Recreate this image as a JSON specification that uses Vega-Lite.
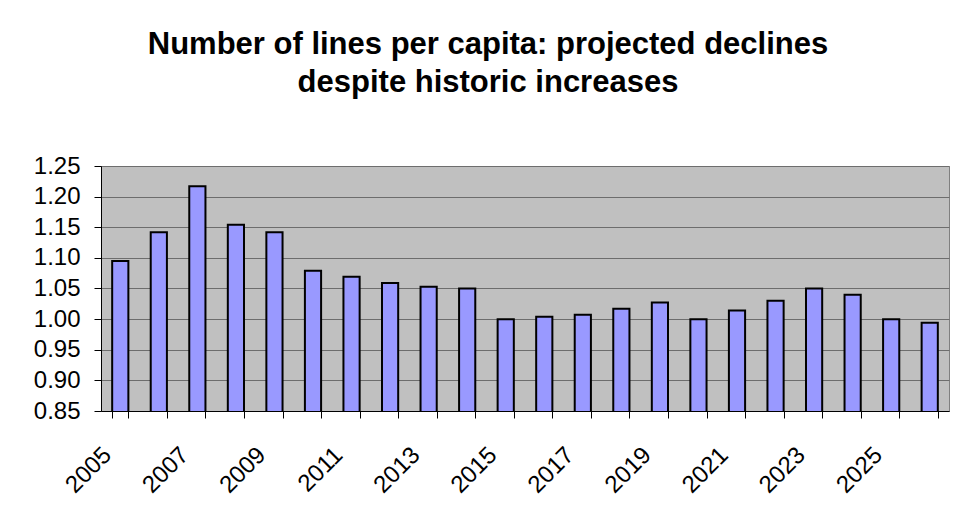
{
  "$schema": "https://vega.github.io/schema/vega-lite/v6.json",
  "autosize": "none",
  "width": 848,
  "height": 245,
  "padding": {"left": 101, "top": 166, "right": 8, "bottom": 109},
  "background": "white",
  "title": {
    "text": ["Number of lines per capita: projected declines", "despite historic increases"],
    "font": "Liberation Sans",
    "fontSize": 31,
    "fontWeight": "bold",
    "color": "black",
    "anchor": "middle",
    "frame": "group",
    "dx": -37,
    "offset": 55,
    "lineHeight": 38
  },
  "data": {
    "values": [
      {"year": 2005, "value": 1.095},
      {"year": 2006, "value": 1.142},
      {"year": 2007, "value": 1.217},
      {"year": 2008, "value": 1.154},
      {"year": 2009, "value": 1.142},
      {"year": 2010, "value": 1.079},
      {"year": 2011, "value": 1.069},
      {"year": 2012, "value": 1.059},
      {"year": 2013, "value": 1.053},
      {"year": 2014, "value": 1.050},
      {"year": 2015, "value": 1.000},
      {"year": 2016, "value": 1.004},
      {"year": 2017, "value": 1.007},
      {"year": 2018, "value": 1.017},
      {"year": 2019, "value": 1.027},
      {"year": 2020, "value": 1.000},
      {"year": 2021, "value": 1.014},
      {"year": 2022, "value": 1.030},
      {"year": 2023, "value": 1.050},
      {"year": 2024, "value": 1.040},
      {"year": 2025, "value": 1.000},
      {"year": 2026, "value": 0.994}
    ]
  },
  "mark": {"type": "bar", "fill": "#9999FF", "stroke": "black", "strokeWidth": 2, "clip": true},
  "encoding": {
    "x": {
      "field": "year",
      "type": "ordinal",
      "scale": {"paddingInner": 0.58, "paddingOuter": 0.29},
      "axis": {
        "title": null,
        "tickBand": "extent",
        "tickSize": 7,
        "tickColor": "black",
        "domainColor": "black",
        "labelExpr": "datum.value % 2 == 1 ? datum.label : ''",
        "labelAngle": -45,
        "labelAlign": "right",
        "labelBaseline": "middle",
        "labelPadding": 33,
        "labelOffset": -13,
        "labelFont": "Liberation Sans",
        "labelFontSize": 24,
        "labelColor": "black",
        "labelOverlap": false,
        "grid": false
      }
    },
    "y": {
      "field": "value",
      "type": "quantitative",
      "scale": {"domain": [0.85, 1.25], "zero": false, "nice": false},
      "axis": {
        "title": null,
        "values": [0.85, 0.9, 0.95, 1.0, 1.05, 1.1, 1.15, 1.2, 1.25],
        "format": ".2f",
        "tickSize": 7,
        "tickColor": "black",
        "domainColor": "black",
        "labelPadding": 14,
        "labelFont": "Liberation Sans",
        "labelFontSize": 24,
        "labelColor": "black",
        "grid": true,
        "gridColor": "#6d6d6d",
        "gridOpacity": 1,
        "labelOverlap": false
      }
    }
  },
  "config": {
    "view": {"fill": "#C0C0C0", "stroke": "#808080", "strokeWidth": 1}
  }
}
